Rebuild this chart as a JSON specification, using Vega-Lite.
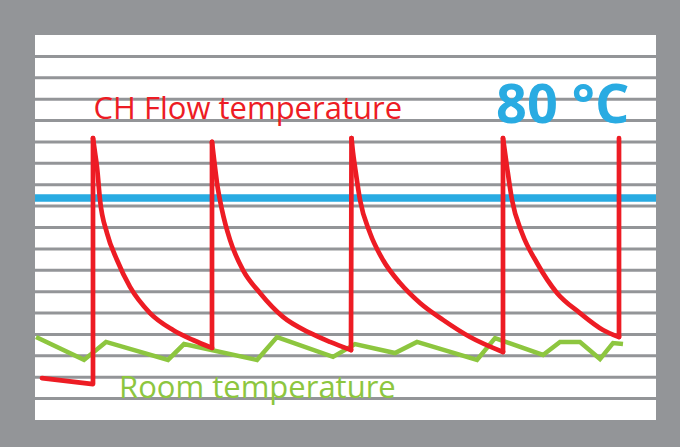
{
  "$schema": "https://vega.github.io/schema/vega-lite/v6.json",
  "width": 621,
  "height": 385,
  "autosize": {"type": "none"},
  "padding": {"left": 35, "top": 35, "right": 24, "bottom": 27},
  "background": "#939598",
  "config": {"view": {"fill": "#ffffff", "stroke": null}},
  "datasets": {
    "grid": [
      {"level": 1}, {"level": 2}, {"level": 3}, {"level": 4}, {"level": 5}, {"level": 6},
      {"level": 7}, {"level": 8}, {"level": 9}, {"level": 10}, {"level": 11}, {"level": 12},
      {"level": 13}, {"level": 14}, {"level": 15}, {"level": 16}, {"level": 17}
    ],
    "flow": [
      {"seq": 1, "cycle": 0, "phase": "rise", "t": 7, "level": 1.96},
      {"seq": 2, "cycle": 0, "phase": "rise", "t": 58, "level": 1.68},
      {"seq": 3, "cycle": 0, "phase": "rise", "t": 58, "level": 13.18},
      {"seq": 4, "cycle": 1, "phase": "decay", "t": 58, "level": 13.18},
      {"seq": 5, "cycle": 1, "phase": "decay", "t": 60, "level": 12.5},
      {"seq": 6, "cycle": 1, "phase": "decay", "t": 62, "level": 11.83},
      {"seq": 7, "cycle": 1, "phase": "decay", "t": 65, "level": 10.29},
      {"seq": 8, "cycle": 1, "phase": "decay", "t": 72, "level": 8.74},
      {"seq": 9, "cycle": 1, "phase": "decay", "t": 82, "level": 7.48},
      {"seq": 10, "cycle": 1, "phase": "decay", "t": 95, "level": 6.22},
      {"seq": 11, "cycle": 1, "phase": "decay", "t": 115, "level": 5.0},
      {"seq": 12, "cycle": 1, "phase": "decay", "t": 138, "level": 4.21},
      {"seq": 13, "cycle": 1, "phase": "decay", "t": 158, "level": 3.74},
      {"seq": 14, "cycle": 1, "phase": "decay", "t": 177, "level": 3.37},
      {"seq": 15, "cycle": 1, "phase": "rise", "t": 177, "level": 3.37},
      {"seq": 16, "cycle": 1, "phase": "rise", "t": 177, "level": 13.0},
      {"seq": 17, "cycle": 2, "phase": "decay", "t": 177, "level": 13.0},
      {"seq": 18, "cycle": 2, "phase": "decay", "t": 179, "level": 12.2},
      {"seq": 19, "cycle": 2, "phase": "decay", "t": 182, "level": 11.08},
      {"seq": 20, "cycle": 2, "phase": "decay", "t": 187, "level": 9.82},
      {"seq": 21, "cycle": 2, "phase": "decay", "t": 195, "level": 8.42},
      {"seq": 22, "cycle": 2, "phase": "decay", "t": 208, "level": 7.01},
      {"seq": 23, "cycle": 2, "phase": "decay", "t": 225, "level": 5.94},
      {"seq": 24, "cycle": 2, "phase": "decay", "t": 248, "level": 4.82},
      {"seq": 25, "cycle": 2, "phase": "decay", "t": 275, "level": 4.07},
      {"seq": 26, "cycle": 2, "phase": "decay", "t": 295, "level": 3.65},
      {"seq": 27, "cycle": 2, "phase": "decay", "t": 316, "level": 3.27},
      {"seq": 28, "cycle": 2, "phase": "rise", "t": 316, "level": 3.27},
      {"seq": 29, "cycle": 2, "phase": "rise", "t": 316.5, "level": 13.18},
      {"seq": 30, "cycle": 3, "phase": "decay", "t": 316.5, "level": 13.18},
      {"seq": 31, "cycle": 3, "phase": "decay", "t": 318, "level": 12.5},
      {"seq": 32, "cycle": 3, "phase": "decay", "t": 320, "level": 11.83},
      {"seq": 33, "cycle": 3, "phase": "decay", "t": 325, "level": 10.29},
      {"seq": 34, "cycle": 3, "phase": "decay", "t": 335, "level": 8.74},
      {"seq": 35, "cycle": 3, "phase": "decay", "t": 348, "level": 7.48},
      {"seq": 36, "cycle": 3, "phase": "decay", "t": 365, "level": 6.4},
      {"seq": 37, "cycle": 3, "phase": "decay", "t": 385, "level": 5.47},
      {"seq": 38, "cycle": 3, "phase": "decay", "t": 408, "level": 4.68},
      {"seq": 39, "cycle": 3, "phase": "decay", "t": 435, "level": 3.88},
      {"seq": 40, "cycle": 3, "phase": "decay", "t": 468, "level": 3.18},
      {"seq": 41, "cycle": 3, "phase": "rise", "t": 468, "level": 3.18},
      {"seq": 42, "cycle": 3, "phase": "rise", "t": 468, "level": 13.18},
      {"seq": 43, "cycle": 4, "phase": "decay", "t": 468, "level": 13.18},
      {"seq": 44, "cycle": 4, "phase": "decay", "t": 470, "level": 12.5},
      {"seq": 45, "cycle": 4, "phase": "decay", "t": 472, "level": 11.83},
      {"seq": 46, "cycle": 4, "phase": "decay", "t": 477, "level": 10.29},
      {"seq": 47, "cycle": 4, "phase": "decay", "t": 487, "level": 8.74},
      {"seq": 48, "cycle": 4, "phase": "decay", "t": 502, "level": 7.34},
      {"seq": 49, "cycle": 4, "phase": "decay", "t": 522, "level": 5.94},
      {"seq": 50, "cycle": 4, "phase": "decay", "t": 545, "level": 5.0},
      {"seq": 51, "cycle": 4, "phase": "decay", "t": 568, "level": 4.21},
      {"seq": 52, "cycle": 4, "phase": "decay", "t": 584, "level": 3.88},
      {"seq": 53, "cycle": 4, "phase": "rise", "t": 584, "level": 3.88},
      {"seq": 54, "cycle": 4, "phase": "rise", "t": 584, "level": 13.18}
    ],
    "room": [
      {"t": 1, "level": 3.88},
      {"t": 49, "level": 2.81},
      {"t": 71, "level": 3.65},
      {"t": 133, "level": 2.81},
      {"t": 149, "level": 3.55},
      {"t": 222, "level": 2.81},
      {"t": 242, "level": 3.88},
      {"t": 298, "level": 2.95},
      {"t": 320, "level": 3.55},
      {"t": 360, "level": 3.13},
      {"t": 382, "level": 3.65},
      {"t": 442, "level": 2.81},
      {"t": 460, "level": 3.83},
      {"t": 508, "level": 3.04},
      {"t": 525, "level": 3.65},
      {"t": 545, "level": 3.65},
      {"t": 565, "level": 2.85},
      {"t": 578, "level": 3.6},
      {"t": 588, "level": 3.55}
    ],
    "setpoint": [{"level": 10.38}],
    "labels": [
      {"key": "flow", "label": "CH Flow temperature", "t": 58.5, "level": 14.06},
      {"key": "setpoint", "label": "80 °C", "t": 461, "level": 13.87},
      {"key": "room", "label": "Room temperature", "t": 84, "level": 1.01}
    ]
  },
  "layer": [
    {
      "data": {"name": "grid"},
      "mark": {"type": "rule", "color": "#939598", "strokeWidth": 3},
      "encoding": {
        "y": {
          "field": "level",
          "type": "quantitative",
          "scale": {"domain": [0, 18], "nice": false, "zero": false},
          "axis": null
        }
      }
    },
    {
      "data": {"name": "setpoint"},
      "mark": {"type": "rule", "color": "#29ABE2", "strokeWidth": 7.5},
      "encoding": {
        "y": {"field": "level", "type": "quantitative"}
      }
    },
    {
      "data": {"name": "room"},
      "mark": {"type": "line", "color": "#8DC63F", "strokeWidth": 4.5, "strokeJoin": "miter", "strokeCap": "butt"},
      "encoding": {
        "x": {"field": "t", "type": "quantitative", "scale": {"domain": [0, 621], "nice": false, "zero": false}, "axis": null},
        "y": {"field": "level", "type": "quantitative"}
      }
    },
    {
      "data": {"name": "flow"},
      "transform": [{"filter": "datum.phase === 'rise'"}],
      "mark": {"type": "line", "color": "#ED1C24", "strokeWidth": 4.7, "strokeJoin": "round", "strokeCap": "round"},
      "encoding": {
        "x": {"field": "t", "type": "quantitative"},
        "y": {"field": "level", "type": "quantitative"},
        "detail": {"field": "cycle", "type": "nominal"},
        "order": {"field": "seq", "type": "quantitative"}
      }
    },
    {
      "data": {"name": "flow"},
      "transform": [{"filter": "datum.phase === 'decay'"}],
      "mark": {"type": "line", "color": "#ED1C24", "strokeWidth": 4.7, "strokeJoin": "round", "strokeCap": "round", "interpolate": "monotone"},
      "encoding": {
        "x": {"field": "t", "type": "quantitative"},
        "y": {"field": "level", "type": "quantitative"},
        "detail": {"field": "cycle", "type": "nominal"},
        "order": {"field": "seq", "type": "quantitative"}
      }
    },
    {
      "data": {"name": "labels"},
      "transform": [{"filter": "datum.key === 'flow'"}],
      "mark": {"type": "text", "color": "#ED1C24", "font": "Open Sans", "fontSize": 31, "align": "left", "baseline": "alphabetic"},
      "encoding": {
        "x": {"field": "t", "type": "quantitative"},
        "y": {"field": "level", "type": "quantitative"},
        "text": {"field": "label"}
      }
    },
    {
      "data": {"name": "labels"},
      "transform": [{"filter": "datum.key === 'setpoint'"}],
      "mark": {"type": "text", "color": "#29ABE2", "font": "Open Sans", "fontWeight": "bold", "fontSize": 54, "align": "left", "baseline": "alphabetic"},
      "encoding": {
        "x": {"field": "t", "type": "quantitative"},
        "y": {"field": "level", "type": "quantitative"},
        "text": {"field": "label"}
      }
    },
    {
      "data": {"name": "labels"},
      "transform": [{"filter": "datum.key === 'room'"}],
      "mark": {"type": "text", "color": "#8DC63F", "font": "Open Sans", "fontSize": 31, "align": "left", "baseline": "alphabetic"},
      "encoding": {
        "x": {"field": "t", "type": "quantitative"},
        "y": {"field": "level", "type": "quantitative"},
        "text": {"field": "label"}
      }
    }
  ]
}
